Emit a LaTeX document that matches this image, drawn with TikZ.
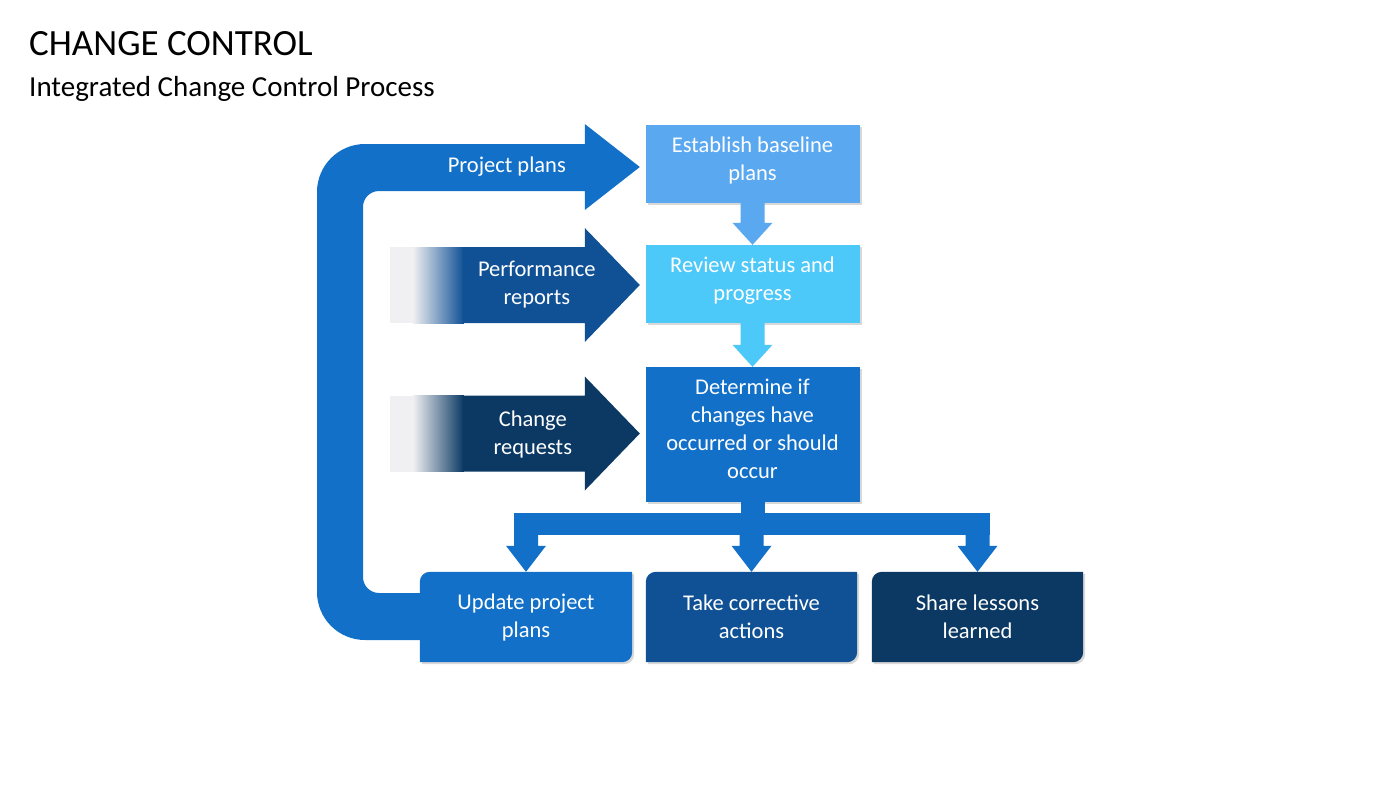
\documentclass[tikz,border=0pt]{standalone}
\usepackage{fontspec}
\setmainfont{Carlito}
\usetikzlibrary{calc,shadows,backgrounds}

\definecolor{estblue}{RGB}{90,168,240}
\definecolor{revblue}{RGB}{76,200,249}
\definecolor{midblue}{RGB}{18,112,201}
\definecolor{deepblue}{RGB}{16,81,150}
\definecolor{navyblue}{RGB}{11,57,100}
\definecolor{fadegray}{RGB}{240,240,242}

\tikzset{
  box/.style={minimum width=214pt, minimum height=78pt, align=center,
    text=white, inner sep=0pt, font=\fontsize{22.5}{28}\selectfont},
  boxshadow/.style={drop shadow={opacity=0.3,shadow xshift=2pt,shadow yshift=-2pt}},
  arrowtext/.style={text=white, align=center, inner sep=0pt, font=\fontsize{22.5}{28}\selectfont},
}

% block arrow pointing down, from #2 to the tip #3
\newcommand{\dnarrow}[4][22]{%
  \fill[#4] ($(#2)+(-12,0)$) -- ($(#3)+(-12,-#1)$) -- ($(#3)+(-20,-#1)$) -- (#3)
    -- ($(#3)+(20,-#1)$) -- ($(#3)+(12,-#1)$) -- ($(#2)+(12,0)$) -- cycle;}

% block arrow pointing right to the tip #1, faded at its tail
\newcommand{\sidearrow}[2]{%
  \fill[fadegray] ($(#1)+(-250,-38)$) rectangle ($(#1)+(-226,38)$);
  \shade[left color=fadegray,right color=#2] ($(#1)+(-227,-38)$) rectangle ($(#1)+(-176,38)$);
  \fill[#2] ($(#1)+(-177,-38)$) -- ($(#1)+(-55,-38)$) -- ($(#1)+(-55,-57)$) -- (#1)
    -- ($(#1)+(-55,57)$) -- ($(#1)+(-55,38)$) -- ($(#1)+(-177,38)$) -- cycle;}

\begin{document}
\begin{tikzpicture}[x=1pt,y=-1pt]
  \useasboundingbox (0,0) rectangle (1400,788);

  % titles
  \node[anchor=base west, inner sep=0pt, font=\fontsize{37}{40}\selectfont] (title) at (29,55) {CHANGE CONTROL};
  \node[anchor=base west, inner sep=0pt, font=\fontsize{29}{32}\selectfont] (subtitle) at (29,96) {Integrated Change Control Process};

  % process boxes
  \node[box, fill=estblue, boxshadow, text depth=11pt] (est) at (752.5,164) {Establish baseline\\plans};
  \node[box, fill=revblue, boxshadow, text depth=10pt] (rev) at (752.5,284) {Review status and\\progress};
  \node[box, fill=midblue, boxshadow, text depth=12pt, minimum height=135pt] (det) at (752.5,434.5) {Determine if\\changes have\\occurred or should\\occur};
  \node[box, minimum width=212pt, minimum height=90pt] (upd) at (526,617) {Update project\\plans};
  \node[box, minimum width=211pt, minimum height=90pt] (act) at (751.5,617) {Take corrective\\actions};
  \node[box, minimum width=211pt, minimum height=90pt] (les) at (977.5,617) {Share lessons\\learned};

  \begin{pgfonlayer}{background}
    \fill[white] (0,0) rectangle (1400,788);
    \foreach \b/\c in {upd/midblue, act/deepblue, les/navyblue}
      \fill[\c, boxshadow] (\b.north) -- (\b.north east) [rounded corners=10pt] -- (\b.south east)
        [sharp corners] -- (\b.south west) [rounded corners=10pt] -- (\b.north west)
        [sharp corners] -- (\b.north) -- cycle;
  \end{pgfonlayer}

  % arrows down the middle
  \dnarrow{est.south}{rev.north}{estblue}
  \dnarrow{rev.south}{det.north}{revblue}

  % branching to the three outcomes
  \fill[midblue] ($(det.south)+(-12,0)$) rectangle ($(det.south)+(12,22)$);
  \coordinate (barl) at ($(upd.north)+(-12,-59)$);
  \coordinate (barr) at ($(les.north)+(12,-37)$);
  \fill[midblue] (barl) rectangle (barr);
  \foreach \b in {upd,act,les}{
    \coordinate (\b top) at ($(\b.north)+(0,-40)$);
    \dnarrow[26]{\b top}{\b.north}{midblue}
  }

  % inputs from the left
  \coordinate (plantip) at ($(est.west)+(-5.5,3)$);
  \coordinate (perftip) at ($(rev.west)+(-5.5,1)$);
  \coordinate (chgtip) at ($(det.west)+(-5.5,-1)$);
  \sidearrow{perftip}{deepblue}
  \sidearrow{chgtip}{navyblue}
  \node[arrowtext] (perf) at ($(perftip)+(-103,0)$) {Performance\\reports};
  \node[arrowtext] (chg) at ($(chgtip)+(-107,1)$) {Change\\requests};

  % feedback loop back to the baseline
  \fill[midblue] ($(upd.west)+(0,-24)$) [rounded corners=16pt] -- (363,593) -- (363,191)
    [sharp corners] -- ($(plantip)+(-55,24)$) -- ($(plantip)+(-55,43)$) -- (plantip)
    -- ($(plantip)+(-55,-43)$) -- ($(plantip)+(-55,-23)$) [rounded corners=48pt] -- (317,144)
    -- (317,640) [sharp corners] -- ($(upd.west)+(0,23)$) -- cycle;
  \node[arrowtext] (plan) at ($(plantip)+(-133,0)$) {Project plans};
\end{tikzpicture}
\end{document}
